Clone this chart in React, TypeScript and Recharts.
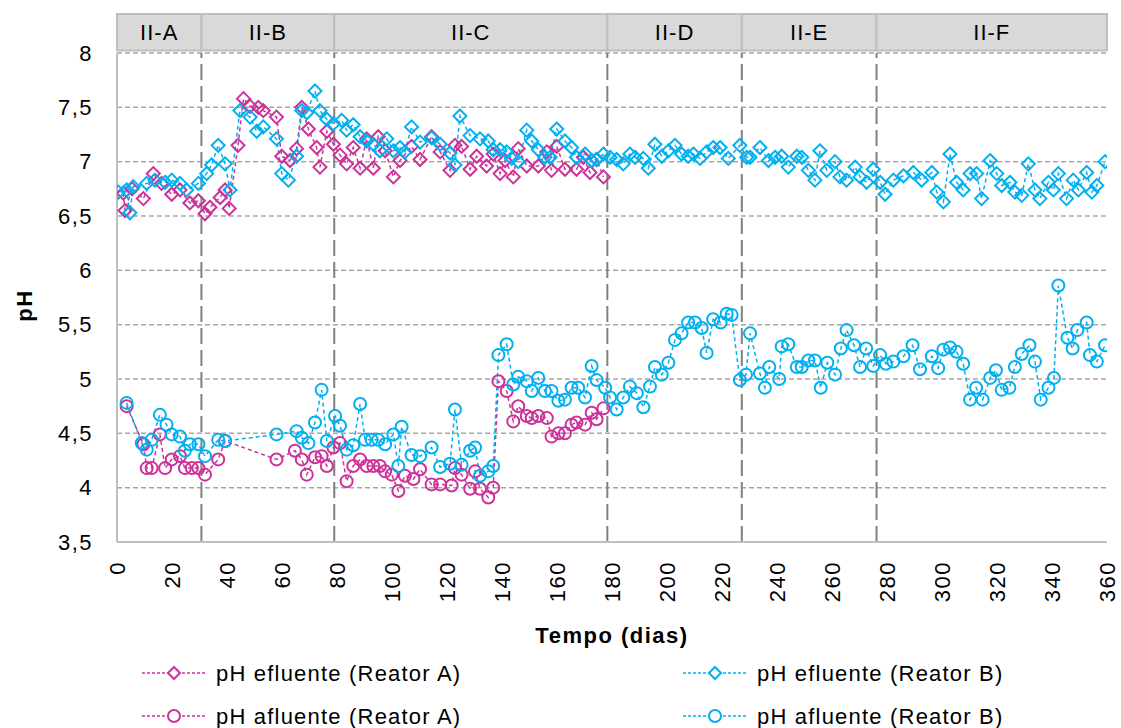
import React from 'react';
import {
  LineChart,
  Line,
  XAxis,
  YAxis,
  CartesianGrid,
  ReferenceLine,
  ReferenceArea,
  Legend,
  Label,
} from 'recharts';

const FONT = '"Liberation Sans", Arial, Helvetica, sans-serif';
const MAGENTA = '#CC3399';
const CYAN = '#00B0F0';

// pH efluente (Reator A)
const effADays = [2.3, 2.9, 5.5, 9.6, 13.2, 16.2, 19.9, 22.9, 26.5, 29.6, 32.0, 33.8, 37.5, 39.3, 40.8, 44, 46, 48.4, 51.4, 53.2, 58, 59.9, 62.9, 65.3, 67.2, 69.6, 72.6, 73.8, 76.3, 78.7, 81.1, 83.5, 85.9, 88.4, 90.8, 93.2, 95, 97.5, 100.5, 102.9, 107.1, 110.2, 114.4, 117.5, 121.1, 122.9, 125.3, 128.4, 130.8, 134.4, 136.8, 139.3, 141.1, 144.1, 145.9, 149, 153.2, 156.3, 158, 159.9, 162.9, 167.1, 169.6, 172, 174.4, 176.9];
const effAVals = [6.71, 6.55, 6.75, 6.66, 6.89, 6.8, 6.7, 6.74, 6.62, 6.64, 6.52, 6.58, 6.67, 6.74, 6.57, 7.15, 7.58, 7.51, 7.5, 7.47, 7.41, 7.05, 7.01, 7.12, 7.5, 7.3, 7.13, 6.95, 7.28, 7.16, 7.06, 6.98, 7.13, 6.94, 7.21, 6.94, 7.23, 7.1, 6.86, 7.01, 7.14, 7.02, 7.23, 7.09, 6.92, 7.15, 7.14, 6.93, 7.05, 6.96, 7.07, 6.89, 7.01, 6.86, 7.12, 6.96, 6.96, 7.09, 6.92, 7.14, 6.93, 6.93, 7.04, 6.9, 7.02, 6.86];

// pH efluente (Reator B)
const effBDays = [0.5, 3.5, 4.7, 5.9, 10.8, 13.8, 17.5, 19.9, 22.9, 25.3, 29.6, 32.6, 34.4, 36.8, 39.3, 41.1, 44.7, 48.4, 50.8, 53.2, 58, 59.9, 62.3, 65.3, 67.2, 69, 72, 73.8, 76.3, 78.7, 81.7, 83.5, 85.9, 88.4, 90.8, 93.2, 95.6, 98.1, 100.5, 102.9, 104.7, 107.1, 110.2, 114.4, 117.5, 121.1, 122.9, 124.7, 128.4, 132, 135, 136.8, 139.3, 141.7, 143.5, 145.9, 149, 150.8, 153.2, 155.6, 157.5, 159.9, 162.9, 165.3, 167.1, 170.2, 172.6, 174.4, 176.9, 179.3, 181.7, 184.1, 186.5, 188.4, 191.4, 193.2, 195.6, 198.1, 200.5, 202.9, 205.3, 207.7, 209.6, 212, 214.4, 216.8, 219.3, 222.3, 226.5, 229, 230.2, 233.8, 236.9, 239.3, 241.7, 244.1, 247.2, 249, 251.4, 253.8, 255.6, 258.1, 261.1, 262.9, 265.3, 268.4, 270.2, 272.6, 275, 277.5, 279.3, 282.3, 286, 289.6, 292.6, 296.3, 298.1, 300.5, 302.9, 305.3, 307.7, 310.2, 312.6, 314.4, 317.5, 319.9, 321.7, 324.7, 326.5, 329, 331.4, 333.8, 335.6, 338.7, 340.5, 342.3, 345.3, 347.7, 349.6, 352.6, 354.5, 356.3, 359.3];
const effBVals = [6.72, 6.74, 6.53, 6.77, 6.8, 6.83, 6.81, 6.83, 6.8, 6.74, 6.8, 6.89, 6.97, 7.15, 6.98, 6.74, 7.47, 7.41, 7.28, 7.32, 7.21, 6.89, 6.83, 7.05, 7.47, 7.45, 7.65, 7.47, 7.39, 7.35, 7.38, 7.29, 7.34, 7.23, 7.19, 7.16, 7.1, 7.21, 7.1, 7.13, 7.09, 7.32, 7.18, 7.22, 7.16, 7.08, 6.97, 7.42, 7.24, 7.21, 7.19, 7.11, 7.11, 7.09, 7.03, 7.0, 7.29, 7.19, 7.11, 7.04, 7.04, 7.3, 7.19, 7.13, 7.04, 7.07, 7.01, 7.02, 7.07, 7.04, 7.02, 6.98, 7.07, 7.04, 7.03, 6.94, 7.16, 7.05, 7.1, 7.15, 7.07, 7.05, 7.07, 7.03, 7.09, 7.13, 7.13, 7.03, 7.15, 7.04, 7.04, 7.13, 7.01, 7.04, 7.05, 6.95, 7.05, 7.04, 6.92, 6.83, 7.1, 6.92, 7.0, 6.86, 6.83, 6.95, 6.86, 6.81, 6.93, 6.81, 6.7, 6.83, 6.87, 6.9, 6.83, 6.9, 6.72, 6.63, 7.07, 6.81, 6.74, 6.89, 6.89, 6.66, 7.01, 6.89, 6.78, 6.81, 6.72, 6.69, 6.98, 6.74, 6.66, 6.81, 6.74, 6.89, 6.66, 6.83, 6.74, 6.9, 6.72, 6.78, 7.0];

// pH afluente (Reator A)
const afADays = [3.5, 9.6, 10.8, 12.6, 15.6, 17.5, 19.9, 22.9, 24.7, 27.2, 29.6, 32, 36.8, 39.3, 58, 64.7, 67.2, 69, 72, 74.4, 76.3, 78.7, 81.1, 83.5, 85.9, 88.4, 90.8, 93.2, 95.6, 97.5, 99.9, 102.3, 104.7, 107.8, 110.2, 114.4, 117.5, 121.7, 122.9, 125.3, 128.4, 130.2, 132, 135, 136.8, 138.7, 141.7, 144.1, 145.9, 149, 150.8, 153.2, 156.3, 158, 160.5, 162.9, 165.3, 167.1, 170.2, 172.6, 174.4, 176.9];
const afAVals = [4.75, 4.4, 4.18, 4.18, 4.49, 4.18, 4.26, 4.29, 4.18, 4.18, 4.18, 4.12, 4.26, 4.43, 4.26, 4.34, 4.26, 4.12, 4.28, 4.29, 4.2, 4.37, 4.41, 4.06, 4.2, 4.26, 4.2, 4.2, 4.2, 4.15, 4.12, 3.97, 4.11, 4.08, 4.17, 4.03, 4.03, 4.02, 4.18, 4.12, 3.99, 4.15, 3.99, 3.91, 4.0, 4.98, 4.89, 4.61, 4.75, 4.66, 4.64, 4.66, 4.64, 4.47, 4.5, 4.5, 4.58, 4.6, 4.58, 4.69, 4.63, 4.73];

// pH afluente (Reator B)
const afBDays = [3.5, 9, 10.8, 12.6, 15.6, 18, 19.9, 22.9, 24.7, 26.5, 29.6, 32, 36.8, 39.3, 58, 65.3, 67.2, 69.6, 72, 74.4, 76.3, 79.3, 81.1, 83.5, 85.9, 88.4, 90.2, 92.6, 95, 97.5, 100.5, 102.3, 103.5, 107.1, 110.2, 114.4, 117.5, 121.1, 122.9, 125.3, 128.4, 130.2, 132, 135, 136.8, 138.7, 141.7, 144.1, 145.9, 149, 150.8, 153.2, 155.6, 158, 160.5, 162.9, 165.3, 167.7, 170.2, 172.6, 174.4, 177.5, 179.3, 181.7, 184.1, 186.5, 189, 191.4, 193.8, 195.6, 198.1, 200.5, 202.9, 205.3, 207.7, 210.2, 212.6, 214.4, 216.8, 219.5, 221.7, 223.5, 226.5, 228.7, 230.2, 233.8, 235.6, 237.2, 240.8, 241.7, 244.1, 247.2, 249, 251.4, 253.8, 255.9, 258.3, 261.1, 263.2, 265.3, 268, 270.2, 272.4, 275, 277.5, 279.6, 282.3, 286, 289.3, 292, 296.3, 298.6, 300.5, 302.9, 305.3, 307.7, 310.2, 312.4, 314.8, 317.5, 319.6, 321.7, 324.5, 326.5, 329, 331.8, 333.8, 335.9, 338.7, 340.7, 342.3, 345.6, 347.5, 349.2, 352.6, 353.8, 356.3, 359.3];
const afBVals = [4.78, 4.41, 4.35, 4.44, 4.67, 4.58, 4.49, 4.47, 4.34, 4.4, 4.4, 4.29, 4.44, 4.43, 4.49, 4.52, 4.46, 4.41, 4.6, 4.9, 4.43, 4.66, 4.57, 4.35, 4.39, 4.77, 4.44, 4.44, 4.44, 4.4, 4.49, 4.2, 4.56, 4.3, 4.29, 4.37, 4.19, 4.22, 4.72, 4.21, 4.34, 4.37, 4.11, 4.15, 4.2, 5.22, 5.32, 4.95, 5.02, 4.98, 4.89, 5.01, 4.89, 4.89, 4.8, 4.81, 4.92, 4.92, 4.83, 5.12, 4.99, 4.92, 4.83, 4.72, 4.83, 4.93, 4.87, 4.74, 4.93, 5.11, 5.04, 5.15, 5.36, 5.42, 5.52, 5.52, 5.47, 5.24, 5.55, 5.52, 5.6, 5.59, 4.99, 5.04, 5.42, 5.05, 4.92, 5.11, 5.0, 5.3, 5.32, 5.11, 5.11, 5.17, 5.17, 4.92, 5.15, 5.04, 5.28, 5.45, 5.31, 5.11, 5.28, 5.12, 5.22, 5.14, 5.16, 5.21, 5.31, 5.09, 5.21, 5.1, 5.27, 5.29, 5.25, 5.14, 4.81, 4.92, 4.81, 5.01, 5.08, 4.9, 4.92, 5.11, 5.23, 5.31, 5.16, 4.81, 4.92, 5.01, 5.86, 5.38, 5.28, 5.45, 5.52, 5.22, 5.16, 5.31];

const xTicks = [0, 20, 40, 60, 80, 100, 120, 140, 160, 180, 200, 220, 240, 260, 280, 300, 320, 340, 360];
const yTicks = [3.5, 4, 4.5, 5, 5.5, 6, 6.5, 7, 7.5, 8];
const phaseNames = ['II-A', 'II-B', 'II-C', 'II-D', 'II-E', 'II-F'];
const phaseBounds = [0, 30.7, 79, 178.3, 227.2, 276.2, 360];
const bandBottom = 8.023;
const bandTop = 8.359;

const seriesNames = [
  'pH efluente (Reator A)',
  'pH efluente (Reator B)',
  'pH afluente (Reator A)',
  'pH afluente (Reator B)',
];

const toPoints = (xs: number[], ys: number[]) => xs.map((x, i) => ({ x, y: ys[i] }));
const effA = toPoints(effADays, effAVals);
const effB = toPoints(effBDays, effBVals);
const afA = toPoints(afADays, afAVals);
const afB = toPoints(afBDays, afBVals);

const makeDiamond = (color: string) => (props: any) => {
  const { cx, cy, index } = props;
  if (cx == null || cy == null) return <g key={`d-${index}`} />;
  const r = 6.5;
  return (
    <path
      key={`d-${index}`}
      d={`M${cx},${cy - r}L${cx + r},${cy}L${cx},${cy + r}L${cx - r},${cy}Z`}
      fill="none"
      stroke={color}
      strokeWidth={2}
    />
  );
};

const makeCircle = (color: string) => (props: any) => {
  const { cx, cy, index } = props;
  if (cx == null || cy == null) return <g key={`c-${index}`} />;
  return <circle key={`c-${index}`} cx={cx} cy={cy} r={6} fill="none" stroke={color} strokeWidth={2} />;
};

const XTick = (props: any) => {
  const { x, y, payload } = props;
  const ty = y + 19;
  return (
    <text
      x={x}
      y={ty}
      transform={`rotate(-90 ${x} ${ty})`}
      textAnchor="end"
      dy="0.36em"
      fontSize={22}
      fontFamily={FONT}
      letterSpacing={1.5}
      fill="#000"
    >
      {payload.value}
    </text>
  );
};

const LegendItem = ({ x, y, color, shape, text }: any) => (
  <g>
    <line x1={x} y1={y} x2={x + 65} y2={y} stroke={color} strokeWidth={1.5} strokeDasharray="3 2" />
    {shape === 'diamond' ? (
      <path d={`M${x + 32},${y - 6}L${x + 38},${y}L${x + 32},${y + 6}L${x + 26},${y}Z`} fill="#fff" stroke={color} strokeWidth={2} />
    ) : (
      <circle cx={x + 32} cy={y} r={6} fill="#fff" stroke={color} strokeWidth={2} />
    )}
    <text x={x + 74} y={y} dy="0.36em" fontSize={22} fontFamily={FONT} letterSpacing={1.2} fill="#000">
      {text}
    </text>
  </g>
);

const LEG_TOP = 640;
const renderLegend = () => (
  <svg width={1121} height={95} style={{ display: 'block' }}>
    <LegendItem x={142} y={673 - LEG_TOP} color={MAGENTA} shape="diamond" text={seriesNames[0]} />
    <LegendItem x={683} y={673 - LEG_TOP} color={CYAN} shape="diamond" text={seriesNames[1]} />
    <LegendItem x={142} y={716 - LEG_TOP} color={MAGENTA} shape="circle" text={seriesNames[2]} />
    <LegendItem x={683} y={716 - LEG_TOP} color={CYAN} shape="circle" text={seriesNames[3]} />
  </svg>
);

const fmt = (v: number) => String(v).replace('.', ',');

export default function App() {
  return (
    <div style={{ position: 'absolute', left: 0, top: 0, width: 1121, height: 728, background: '#fff' }}>
      <LineChart width={1121} height={728} margin={{ top: 53, right: 14, left: 0, bottom: 86 }}>
        <CartesianGrid vertical={false} stroke="#a6a6a6" strokeWidth={1.5} strokeDasharray="5 3" />
        <XAxis
          type="number"
          dataKey="x"
          domain={[0, 360]}
          ticks={xTicks}
          interval={0}
          allowDataOverflow
          height={100}
          tickLine={false}
          tickSize={0}
          tickMargin={0}
          axisLine={{ stroke: '#bfbfbf', strokeWidth: 2 }}
          tick={<XTick />}
        >
          <Label
            content={(p: any) => {
              const vb = p.viewBox || { x: 117, y: 542, width: 990 };
              return (
                <text
                  x={vb.x + vb.width / 2}
                  y={vb.y + 93}
                  dy="0.36em"
                  textAnchor="middle"
                  fontSize={22}
                  fontWeight="bold"
                  fontFamily={FONT}
                  letterSpacing={1.5}
                  fill="#000"
                >
                  Tempo (dias)
                </text>
              );
            }}
          />
        </XAxis>
        <YAxis
          type="number"
          domain={[3.5, 8]}
          ticks={yTicks}
          interval={0}
          allowDataOverflow
          width={117}
          tickLine={false}
          tickSize={0}
          tickMargin={24}
          tickFormatter={fmt}
          axisLine={{ stroke: '#bfbfbf', strokeWidth: 2 }}
          tick={{ fontSize: 22, fill: '#000', fontFamily: FONT, letterSpacing: 1.5 }}
        >
          <Label
            content={(p: any) => {
              const vb = p.viewBox || { x: 0, y: 53, width: 117, height: 489 };
              const cx = vb.x + 24;
              const cy = vb.y + vb.height / 2 + 8;
              return (
                <text
                  x={cx}
                  y={cy}
                  dy="0.36em"
                  transform={`rotate(-90 ${cx} ${cy})`}
                  textAnchor="middle"
                  fontSize={22}
                  fontWeight="bold"
                  fontFamily={FONT}
                  letterSpacing={1.5}
                  fill="#000"
                >
                  pH
                </text>
              );
            }}
          />
        </YAxis>
        {phaseNames.map((name, i) => (
          <ReferenceArea
            key={name}
            x1={phaseBounds[i]}
            x2={phaseBounds[i + 1]}
            y1={bandBottom}
            y2={bandTop}
            ifOverflow="visible"
            fill="#d9d9d9"
            fillOpacity={1}
            stroke="#bfbfbf"
            strokeWidth={2}
            label={{ value: name, position: 'center', fill: '#000', fontSize: 22, fontFamily: FONT, letterSpacing: 1 }}
          />
        ))}
        {phaseBounds.slice(1, -1).map((b) => (
          <ReferenceLine key={b} x={b} stroke="#808080" strokeWidth={2} strokeDasharray="16 6" />
        ))}
        <Line
          data={effA}
          dataKey="y"
          name={seriesNames[0]}
          type="linear"
          stroke={MAGENTA}
          strokeWidth={1.5}
          strokeDasharray="4 3"
          dot={makeDiamond(MAGENTA)}
          activeDot={false}
          isAnimationActive={false}
        />
        <Line
          data={effB}
          dataKey="y"
          name={seriesNames[1]}
          type="linear"
          stroke={CYAN}
          strokeWidth={1.5}
          strokeDasharray="4 3"
          dot={makeDiamond(CYAN)}
          activeDot={false}
          isAnimationActive={false}
        />
        <Line
          data={afA}
          dataKey="y"
          name={seriesNames[2]}
          type="linear"
          stroke={MAGENTA}
          strokeWidth={1.5}
          strokeDasharray="4 3"
          dot={makeCircle(MAGENTA)}
          activeDot={false}
          isAnimationActive={false}
        />
        <Line
          data={afB}
          dataKey="y"
          name={seriesNames[3]}
          type="linear"
          stroke={CYAN}
          strokeWidth={1.5}
          strokeDasharray="4 3"
          dot={makeCircle(CYAN)}
          activeDot={false}
          isAnimationActive={false}
        />
        <Legend
          layout="horizontal"
          verticalAlign="middle"
          align="center"
          content={renderLegend}
          wrapperStyle={{ position: 'absolute', top: LEG_TOP, left: 0, width: 1121, height: 95 }}
        />
      </LineChart>
    </div>
  );
}
